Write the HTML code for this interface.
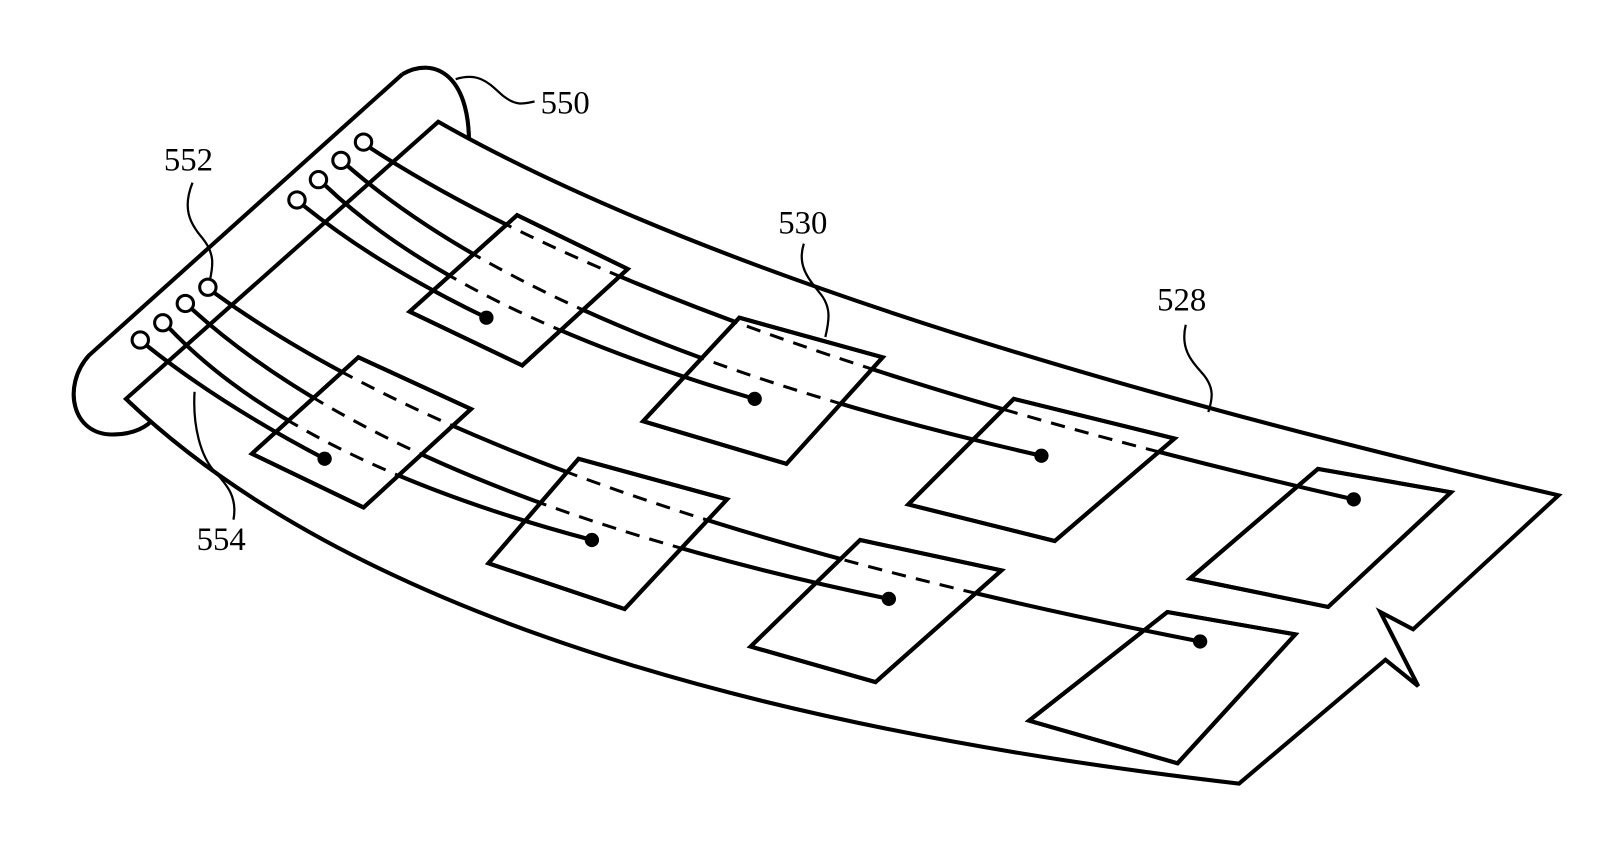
<!DOCTYPE html>
<html><head><meta charset="utf-8"><style>
html,body{margin:0;padding:0;background:#fff;}
svg{display:block}
text{font-family:"Liberation Serif",serif;font-size:32px;fill:#000}
</style></head><body>
<svg width="1600" height="861" viewBox="0 0 1600 861" xmlns="http://www.w3.org/2000/svg">
<defs>
<clipPath id="cP1"><polygon points="400,307 505,212 613,265 510,360"/></clipPath>
<clipPath id="cP2"><polygon points="628,415 722,313 862,352 768,457"/></clipPath>
<clipPath id="cP3"><polygon points="887,497 990,393 1147,432 1030,533"/></clipPath>
<clipPath id="cP4"><polygon points="1162,570 1287,462 1417,485 1297,598"/></clipPath>
<clipPath id="cQ1"><polygon points="246,447 350,352 460,403 355,500"/></clipPath>
<clipPath id="cQ2"><polygon points="477,555 565,452 710,492 610,600"/></clipPath>
<clipPath id="cQ3"><polygon points="733,637 840,532 978,562 855,672"/></clipPath>
<clipPath id="cQ4"><polygon points="1005,710 1140,603 1265,625 1150,752"/></clipPath>
</defs>
<g transform="scale(1.024,1.015)">
<g fill="none" stroke="#000" stroke-width="4" stroke-linejoin="miter">
<path d="M393,73 L87,350 C60,380 70,430 112,428 C130,428 145,420 150,412"/>
<path d="M393,73 C425,55 458,75 458,140"/>
<path d="M428,120 Q760,310 1522,488 L1380,620 L1348,603 L1385,676 L1353,650 L1210,772 Q420,680 123,393 Z" fill="#fff"/>
<g stroke-width="3">
<circle cx="355" cy="140" r="8"/><circle cx="333" cy="158" r="8"/><circle cx="311" cy="177" r="8"/><circle cx="290" cy="197" r="8"/>
<circle cx="203" cy="283" r="8"/><circle cx="181" cy="299" r="8"/><circle cx="159" cy="318" r="8"/><circle cx="137" cy="335" r="8"/>
</g>
<g>
<path id="wa" d="M362,146 Q656,338 1322,492"/>
<path id="wb" d="M340,164 Q542,340 1017,449"/>
<path id="wc" d="M318,183 Q447,307 737,393"/>
<path id="wd" d="M297,203 Q370,262 475,313"/>
<path id="we" d="M210,289 Q499,500 1172,632"/>
<path id="wf" d="M188,305 Q391,490 868,590"/>
<path id="wg" d="M166,324 Q290,455 578,532"/>
<path id="wh" d="M144,341 Q215,398 317,452"/>
</g>
<g fill="#fff">
<polygon points="400,307 505,212 613,265 510,360"/>
<polygon points="628,415 722,313 862,352 768,457"/>
<polygon points="887,497 990,393 1147,432 1030,533"/>
<polygon points="1162,570 1287,462 1417,485 1297,598"/>
<polygon points="246,447 350,352 460,403 355,500"/>
<polygon points="477,555 565,452 710,492 610,600"/>
<polygon points="733,637 840,532 978,562 855,672"/>
<polygon points="1005,710 1140,603 1265,625 1150,752"/>
</g>
<g stroke-dasharray="14,10" stroke-width="3">
<use href="#wa"/><use href="#wb"/><use href="#wc"/>
<use href="#we"/><use href="#wf"/><use href="#wg"/>
</g>
<use href="#wa" clip-path="url(#cP4)"/>
<use href="#wb" clip-path="url(#cP3)"/>
<use href="#wc" clip-path="url(#cP2)"/>
<use href="#wd" clip-path="url(#cP1)"/>
<use href="#we" clip-path="url(#cQ4)"/>
<use href="#wf" clip-path="url(#cQ3)"/>
<use href="#wg" clip-path="url(#cQ2)"/>
<use href="#wh" clip-path="url(#cQ1)"/>
<polygon points="400,307 505,212 613,265 510,360"/>
<polygon points="628,415 722,313 862,352 768,457"/>
<polygon points="887,497 990,393 1147,432 1030,533"/>
<polygon points="1162,570 1287,462 1417,485 1297,598"/>
<polygon points="246,447 350,352 460,403 355,500"/>
<polygon points="477,555 565,452 710,492 610,600"/>
<polygon points="733,637 840,532 978,562 855,672"/>
<polygon points="1005,710 1140,603 1265,625 1150,752"/>
<g stroke-width="2.2">
<path d="M445,78 C470,70 480,85 492,95 C505,105 512,102 522,100"/>
<path d="M188,180 C178,205 185,220 198,235 C210,250 208,262 205,276"/>
<path d="M785,240 C778,262 790,275 800,288 C812,302 810,315 806,332"/>
<path d="M1158,320 C1152,345 1165,357 1176,370 C1186,383 1184,393 1180,406"/>
<path d="M228,512 C232,490 222,478 210,465 C196,450 188,420 190,386"/>
</g>
</g>
<g fill="#000">
<circle cx="475" cy="313" r="7"/><circle cx="737" cy="393" r="7"/><circle cx="1017" cy="449" r="7"/><circle cx="1322" cy="492" r="7"/>
<circle cx="317" cy="452" r="7"/><circle cx="578" cy="532" r="7"/><circle cx="868" cy="590" r="7"/><circle cx="1172" cy="632" r="7"/>
</g>
<text x="528" y="112">550</text>
<text x="160" y="168">552</text>
<text x="760" y="230">530</text>
<text x="1130" y="306">528</text>
<text x="192" y="542">554</text>
</g>
</svg>
</body></html>
